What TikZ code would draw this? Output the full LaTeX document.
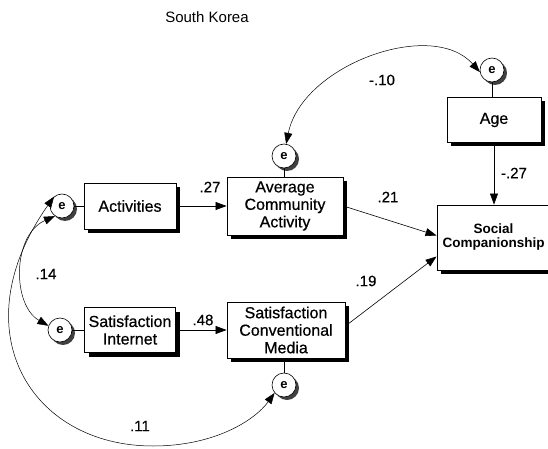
\documentclass[tikz,border=0pt]{standalone}
\usepackage{fontspec}
\setmainfont{Liberation Sans}
\newfontfamily\boxfont{Liberation Sans}[FakeBold=0.5]
\usetikzlibrary{arrows.meta,shadows}
\begin{document}
\begin{tikzpicture}[x=1pt,y=-1pt,
  box/.style={draw, fill=white, line width=0.9pt, align=center, inner sep=0pt,
    font=\boxfont\fontsize{16}{17.5}\selectfont,
    drop shadow={shadow xshift=4pt, shadow yshift=-4pt, fill=black, opacity=1}},
  err/.style={circle, draw, fill=white, line width=0.6pt, minimum size=24pt, inner sep=0pt,
    font=\bfseries\fontsize{13}{13}\selectfont,
    drop shadow={shadow xshift=3pt, shadow yshift=-3pt, fill=black!75, opacity=1}},
  lab/.style={font=\boxfont\fontsize{15}{15}\selectfont, inner sep=0pt},
  link/.style={line width=0.6pt},
  arr/.style={-{Triangle[length=11pt,width=8pt]}, line width=0.6pt},
  cov/.style={{Triangle[length=11pt,width=8pt]}-{Triangle[length=11pt,width=8pt]}, line width=0.5pt},
]
\useasboundingbox (0,0) rectangle (548,449);

\node[font=\fontsize{15}{15}\selectfont, inner sep=0pt] (title) at (207,17) {South Korea};

\node[box, minimum width=92pt, minimum height=46pt] (act) at (130,206) {Activities};
\node[box, minimum width=116pt, minimum height=58pt] (aca) at (285,206) {Average\\Community\\Activity};
\node[box, minimum width=94pt, minimum height=45pt] (age) at (494,120) {Age};
\node[box, minimum width=113pt, minimum height=65pt, font=\bfseries\fontsize{13.5}{14}\selectfont] (soc) at (493.5,237.5) {Social\\Companionship};
\node[box, minimum width=91pt, minimum height=45pt] (si) at (130,330) {Satisfaction\\Internet};
\node[box, minimum width=118pt, minimum height=56pt] (scm) at (286,330) {Satisfaction\\Conventional\\Media};

\node[err] (eact) at (62,206) {e};
\node[err] (esi) at (60,330) {e};
\node[err] (eaca) at (284,156) {e};
\node[err] (eage) at (492,70) {e};
\node[err] (escm) at (284,385) {e};

\draw[link] (eact) -- (act);
\draw[link] (esi) -- (si);
\draw[link] (eaca) -- (eaca |- aca.north);
\draw[link] (eage) -- (eage |- age.north);
\draw[link] (escm) -- (escm |- scm.south);

\draw[arr] (act) -- (aca);
\draw[arr] (si) -- (scm);
\draw[arr] (aca.east) -- ([yshift=2pt]soc.west);
\draw[arr] ([yshift=4pt]scm.east) -- ([yshift=-19pt]soc.west);
\draw[arr] (age.south) -- (age.south |- soc.north);

\coordinate (bot) at (153,446);
\draw[cov] (eaca.80) .. controls (302,65) and (432,18) .. (eage.190);
\draw[cov] (eact.235) .. controls (12,235) and (12,305) .. (esi.160);
\draw[cov] (eact.130) .. controls (-40,330) and (30,446) .. (bot) .. controls (215,446) and (255,420) .. (escm.220);

\node[lab] (l27) at (210,187) {.27};
\node[lab] (l21) at (388,197) {.21};
\node[lab] (lm27) at (514,173) {-.27};
\node[lab] (lm10) at (382,80) {-.10};
\node[lab] (l19) at (366,281) {.19};
\node[lab] (l48) at (203,320) {.48};
\node[lab] (l14) at (46,274) {.14};
\node[lab] (l11) at (140,426) {.11};
\end{tikzpicture}
\end{document}
